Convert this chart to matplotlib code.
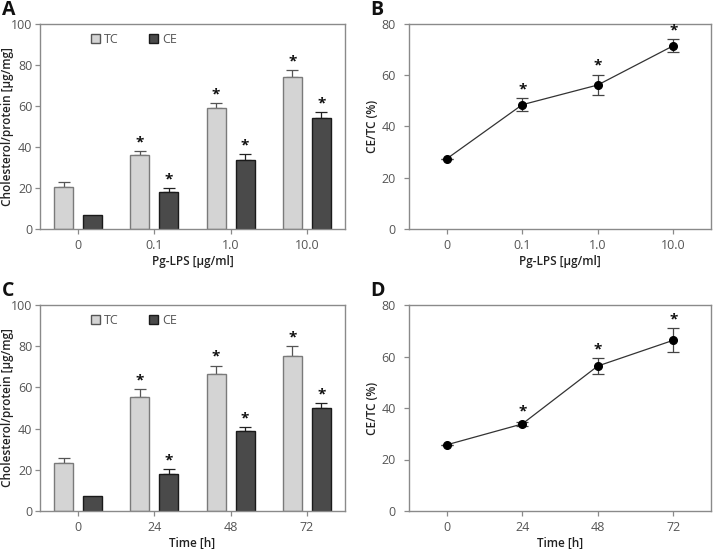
import matplotlib
matplotlib.use("Agg")
import matplotlib.pyplot as plt
from matplotlib.patches import Patch
import numpy as np

plt.rcParams['font.family'] = ['Open Sans', 'DejaVu Sans']

# Data
lps_labels = ["0", "0.1", "1.0", "10.0"]
time_labels = ["0", "24", "48", "72"]

a_tc = [20.5, 36.0, 59.2, 74.0]
a_tc_err = [2.4, 2.0, 2.2, 3.4]
a_ce = [7.0, 18.0, 33.5, 54.0]
a_ce_err = [0.0, 2.0, 3.0, 3.1]
a_tc_sig = [False, True, True, True]
a_ce_sig = [False, True, True, True]

b_ratio = [27.4, 48.5, 56.2, 71.5]
b_err = [0.0, 2.5, 4.0, 2.5]
b_sig = [False, True, True, True]

c_tc = [23.5, 55.4, 66.7, 75.2]
c_tc_err = [2.0, 3.6, 3.9, 5.0]
c_ce = [7.1, 18.1, 38.8, 50.2]
c_ce_err = [0.0, 2.1, 2.0, 2.1]
c_tc_sig = [False, True, True, True]
c_ce_sig = [False, True, True, True]

d_ratio = [25.7, 33.8, 56.3, 66.3]
d_err = [0.0, 0.7, 3.1, 4.6]
d_sig = [False, True, True, True]

W, H = 713, 549
fig = plt.figure(figsize=(W / 100, H / 100), dpi=100)

SPINE = '#8a8a8a'
TICKC = '#555555'
LABC = '#222222'


def frac(l, t, r, b):
    return [l / W, 1 - b / H, (r - l) / W, (b - t) / H]


def style(ax, labels, ymax, xlabel, ylabel, ypad, ylab_cx):
    for s in ax.spines.values():
        s.set_color(SPINE)
        s.set_linewidth(1.0)
    ax.set_xlim(-0.5, 3.5)
    ax.set_ylim(0, ymax)
    ax.set_xticks(range(len(labels)))
    ax.set_xticklabels(labels)
    ax.set_yticks(np.arange(0, ymax + 1, 20))
    ax.tick_params(axis='both', colors=SPINE, labelcolor=TICKC, labelsize=9,
                   length=3.5, width=0.9, direction='out')
    ax.tick_params(axis='x', pad=4)
    ax.tick_params(axis='y', pad=ypad)
    ax.set_xlabel(xlabel, fontsize=8.5, color=LABC, fontweight='semibold', labelpad=2)
    ax.set_ylabel(ylabel, fontsize=8.5, color=LABC, fontweight='semibold')
    lab = ax.yaxis.label
    lab.set_va('center')
    lab.set_ha('center')
    bbox = ax.get_position()
    ax_left_px = bbox.x0 * W
    ax_w_px = bbox.width * W
    ax.yaxis.set_label_coords((ylab_cx - ax_left_px) / ax_w_px, 0.5)


def bar_panel(ax, labels, tc, tc_err, ce, ce_err, tc_sig, ce_sig, xlabel):
    x = np.arange(len(labels))
    off = 0.19
    w = 0.25
    ax.bar(x - off, tc, w, color='#d4d4d4', edgecolor='#7a7a7a', linewidth=1.0, zorder=2)
    ax.bar(x + off, ce, w, color='#4a4a4a', edgecolor='#1a1a1a', linewidth=1.0, zorder=2)
    for xi, v, e in zip(x - off, tc, tc_err):
        if e > 0:
            ax.errorbar(xi, v, yerr=[[0], [e]], fmt='none', ecolor='#555555',
                        elinewidth=0.9, capsize=4, capthick=0.9, zorder=1)
    for xi, v, e in zip(x + off, ce, ce_err):
        if e > 0:
            ax.errorbar(xi, v, yerr=[[0], [e]], fmt='none', ecolor='#222222',
                        elinewidth=0.9, capsize=4, capthick=0.9, zorder=1)
    for xi, v, e, s in zip(x - off, tc, tc_err, tc_sig):
        if s:
            ax.text(xi, v + e + 0.8, '*', ha='center', va='bottom', fontsize=11,
                    color='#111111', fontweight='bold')
    for xi, v, e, s in zip(x + off, ce, ce_err, ce_sig):
        if s:
            ax.text(xi, v + e + 0.8, '*', ha='center', va='bottom', fontsize=11,
                    color='#111111', fontweight='bold')
    handles = [Patch(facecolor='#d4d4d4', edgecolor='#555555', label='TC'),
               Patch(facecolor='#4a4a4a', edgecolor='#1a1a1a', label='CE')]
    ax.legend(handles=handles, loc='upper left', bbox_to_anchor=(0.13, 1.01), ncol=2,
              frameon=False, fontsize=9, handlelength=0.75, handleheight=0.75,
              handletextpad=0.3, columnspacing=2.4, labelcolor=TICKC)
    style(ax, labels, 100, xlabel, 'Cholesterol/protein [µg/mg]', 2, 7.5)


def line_panel(ax, labels, vals, err, sig, xlabel):
    x = np.arange(len(labels))
    ax.plot(x, vals, color='#333333', linewidth=0.9, zorder=2)
    ax.errorbar(x, vals, yerr=err, fmt='o', color='black', markersize=5.5,
                ecolor='#444444', elinewidth=0.9, capsize=4, capthick=0.9, zorder=3)
    for xi, v, e, s in zip(x, vals, err, sig):
        if s:
            ax.text(xi, v + max(e, 1.5) + 0.8, '*', ha='center', va='bottom', fontsize=11,
                    color='#111111', fontweight='bold')
    style(ax, labels, 80, xlabel, 'CE/TC (%)', 6, 373)


axA = fig.add_axes(frac(40, 24, 345, 229))
axB = fig.add_axes(frac(409, 24, 711, 229))
axC = fig.add_axes(frac(40, 305, 345, 511))
axD = fig.add_axes(frac(409, 305, 711, 511))

bar_panel(axA, lps_labels, a_tc, a_tc_err, a_ce, a_ce_err, a_tc_sig, a_ce_sig, 'Pg-LPS [µg/ml]')
line_panel(axB, lps_labels, b_ratio, b_err, b_sig, 'Pg-LPS [µg/ml]')
bar_panel(axC, time_labels, c_tc, c_tc_err, c_ce, c_ce_err, c_tc_sig, c_ce_sig, 'Time [h]')
line_panel(axD, time_labels, d_ratio, d_err, d_sig, 'Time [h]')

for letter, (px, py) in zip('ABCD', [(2, 0), (370, 0), (2, 281), (370, 281)]):
    fig.text(px / W, 1 - py / H, letter, fontsize=14, fontweight='bold',
             ha='left', va='top', color='#111111')

fig.savefig('out.png', dpi=100)
